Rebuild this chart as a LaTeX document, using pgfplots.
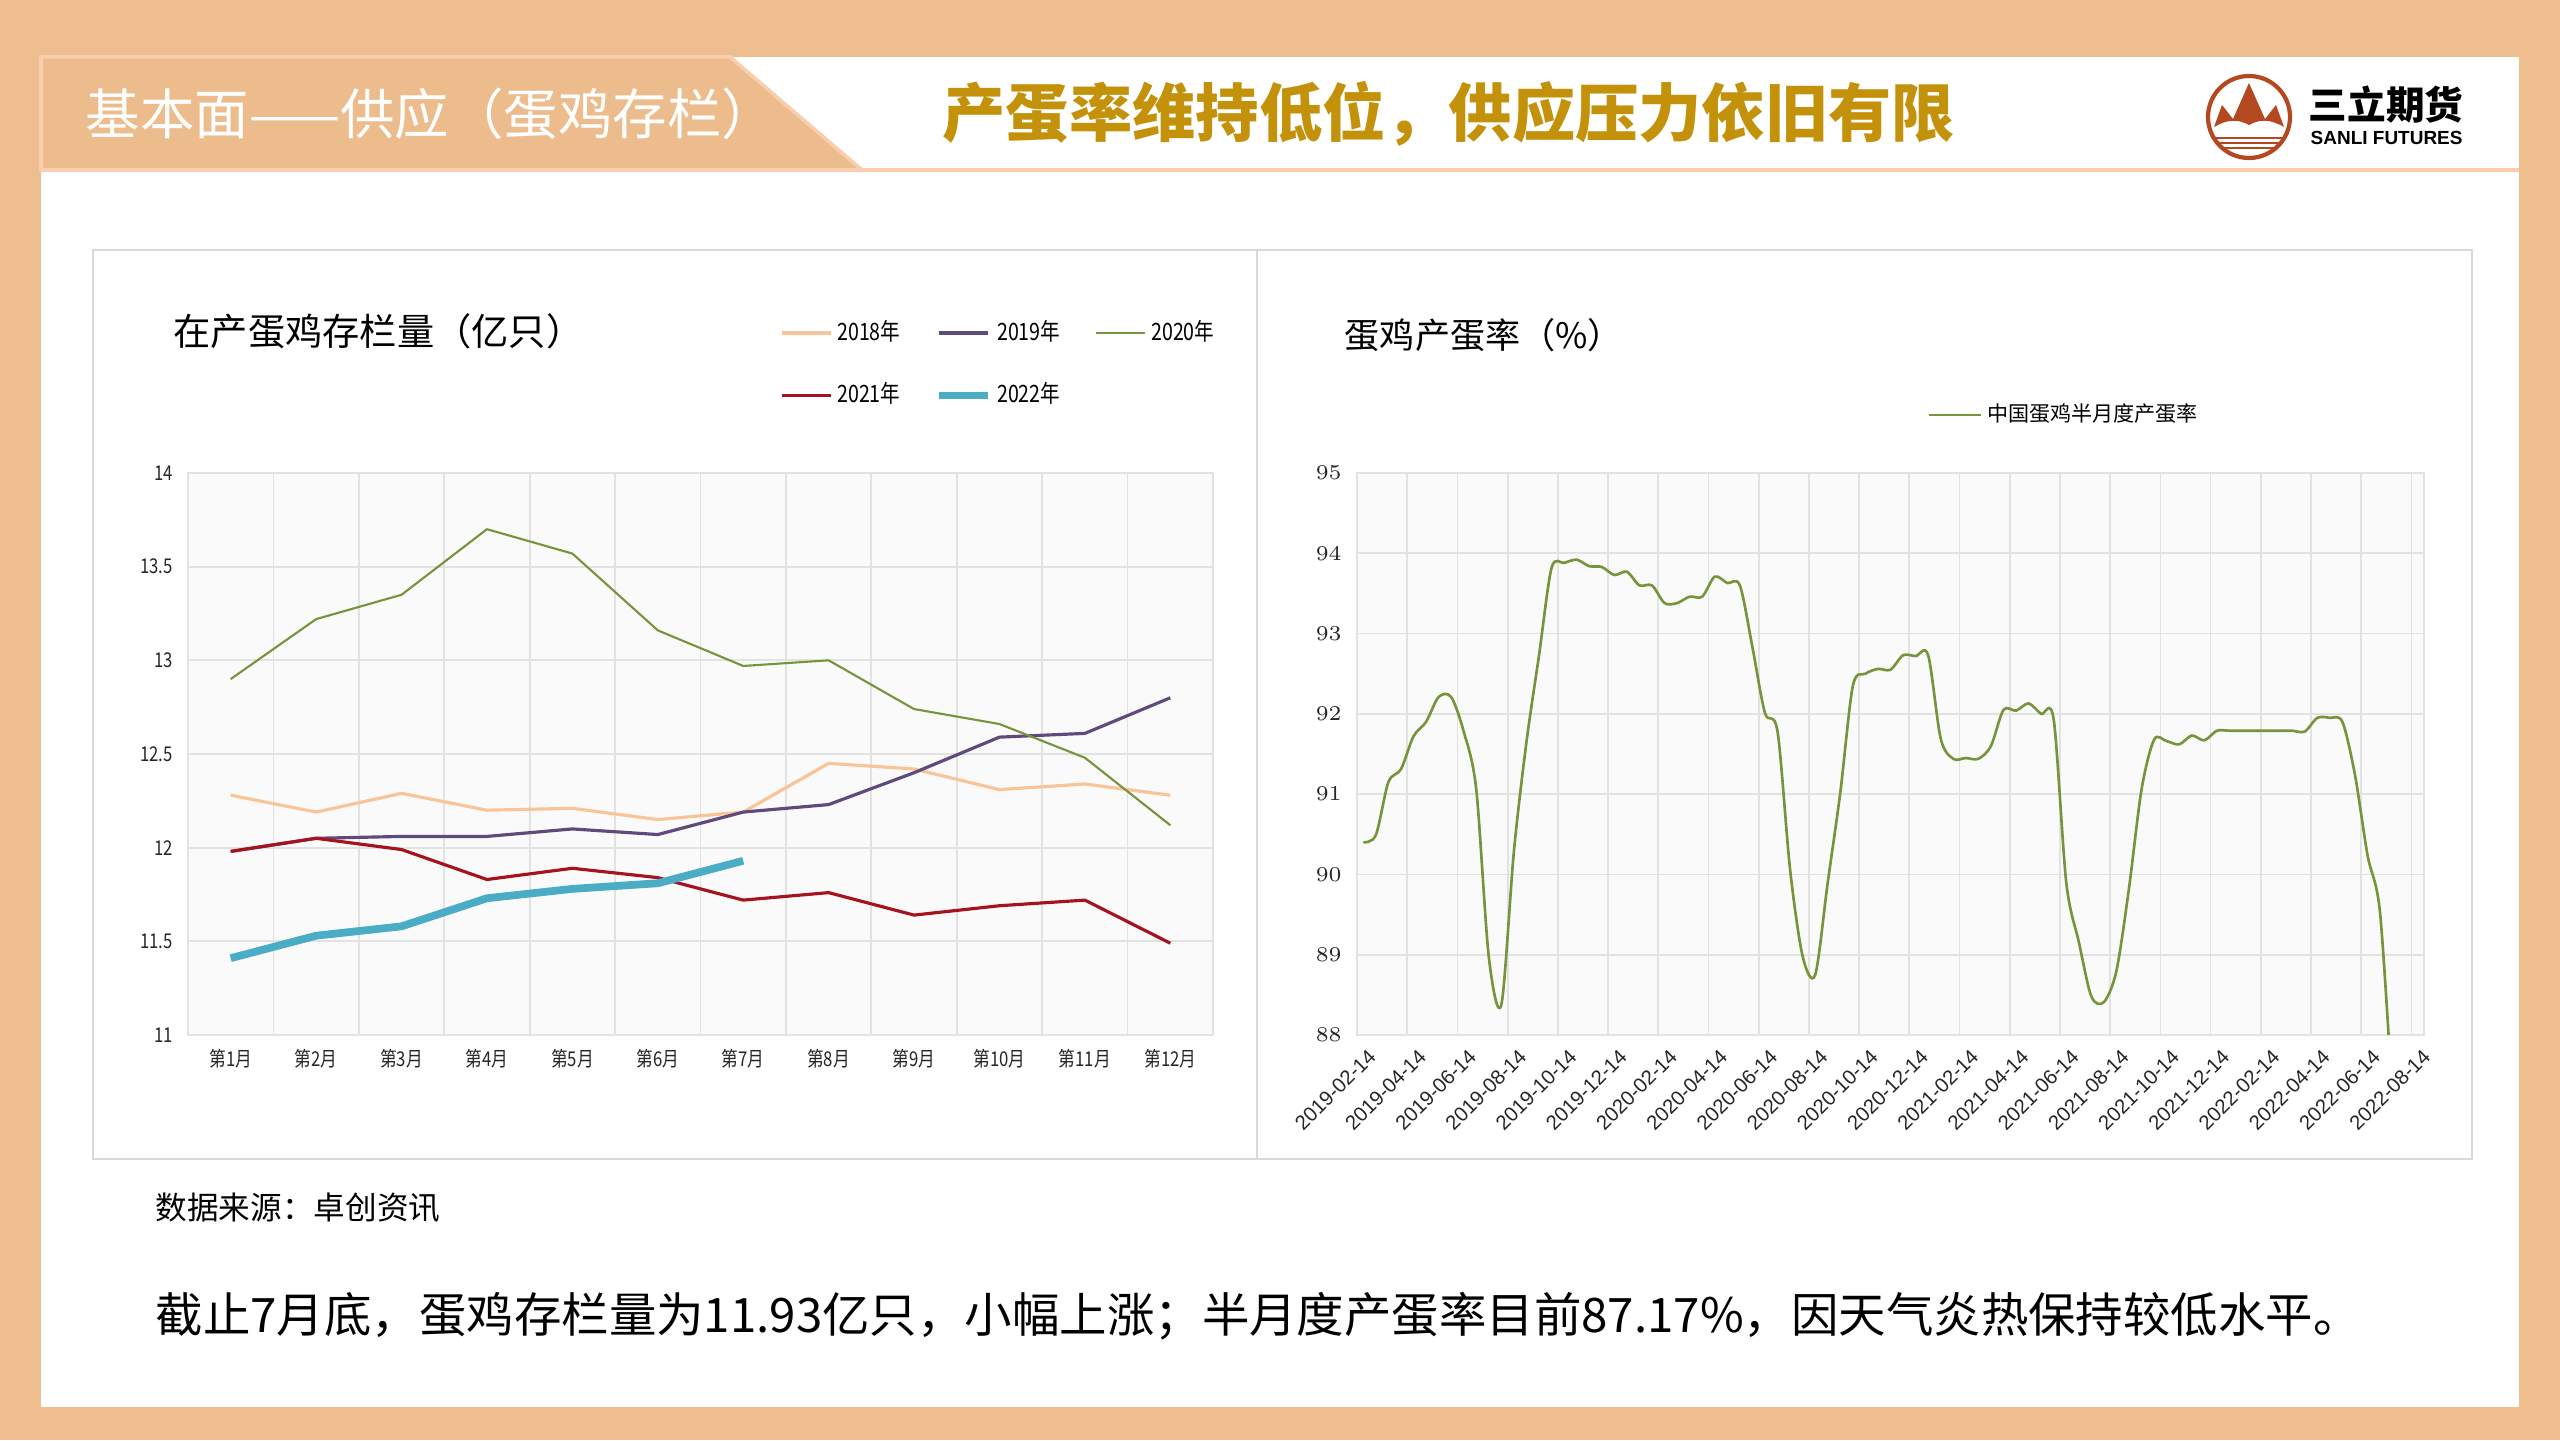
\documentclass[border=0pt]{standalone}
\usepackage{fontspec}
\setmainfont{Noto Sans CJK SC}
\newfontfamily\nar[FakeStretch=0.82]{Noto Sans CJK SC}
\newfontfamily\lib{Liberation Sans}
\newfontfamily\libnar[FakeStretch=0.82]{Liberation Sans}
\usepackage{pgfplots}
\pgfplotsset{compat=1.18}
\definecolor{bgor}{RGB}{238,190,142}
\definecolor{hdrbox}{RGB}{237,188,141}
\definecolor{hdrline}{RGB}{248,206,174}
\definecolor{titlegold}{RGB}{196,146,10}
\definecolor{panelc}{RGB}{217,217,217}
\definecolor{gridc}{RGB}{226,226,226}
\definecolor{plotbg}{RGB}{250,250,250}
\definecolor{cA}{RGB}{248,196,152}
\definecolor{cB}{RGB}{96,74,123}
\definecolor{cC}{RGB}{119,147,60}
\definecolor{cD}{RGB}{165,20,30}
\definecolor{cE}{RGB}{75,172,198}
\definecolor{rust}{RGB}{180,72,32}
\begin{document}
\begin{tikzpicture}
\useasboundingbox (0,0) rectangle (25.6,14.4);
\fill[bgor] (0,0) rectangle (25.6,14.4);
\fill[white] (0.41,0.33) rectangle (25.19,13.83);
\draw[hdrline, line width=1.4pt] (0.41,12.70) -- (25.19,12.70);
\filldraw[fill=hdrbox, draw=hdrline, line width=1pt] (0.41,13.83) -- (7.30,13.83) -- (8.62,12.70) -- (0.41,12.70) -- cycle;
\node[anchor=west, inner sep=0pt, text=white, font=\fontsize{15.5}{17}\selectfont] at (0.85,13.26) {基本面——供应（蛋鸡存栏）};
\node[anchor=west, inner sep=0pt, text=titlegold, font=\bfseries\fontsize{18}{20}\selectfont] at (9.42,13.26) {产蛋率维持低位，供应压力依旧有限};
% logo
\begin{scope}
\clip (22.49,13.23) circle (0.40);
\fill[rust] (22.14,13.13) -- (22.22,13.35) -- (22.33,13.21) -- (22.49,13.57) -- (22.65,13.21) -- (22.76,13.35) -- (22.84,13.13) .. controls (22.70,13.21) and (22.60,13.21) .. (22.49,13.15) .. controls (22.38,13.21) and (22.28,13.21) .. (22.14,13.13) -- cycle;
\draw[rust, line width=0.8pt] (22.0,13.02) -- (23.0,13.02);
\draw[rust, line width=0.8pt] (22.0,12.97) -- (23.0,12.97);
\draw[rust, line width=0.8pt] (22.0,12.92) -- (23.0,12.92);
\end{scope}
\draw[rust, line width=1.2pt] (22.49,13.23) circle (0.41);
\node[anchor=west, inner sep=0pt, font=\bfseries\fontsize{11}{12}\selectfont] at (23.08,13.35) {三立期货};
\node[anchor=west, inner sep=0pt, font=\lib\bfseries\fontsize{5.4}{6}\selectfont] at (23.10,13.02) {SANLI FUTURES};
% panels
\draw[panelc, line width=0.6pt] (0.93,2.81) rectangle (24.72,11.90);
\draw[panelc, line width=0.6pt] (12.57,2.81) -- (12.57,11.90);
\node[anchor=west, inner sep=0pt, font=\fontsize{10.6}{12}\selectfont] at (1.73,11.09) {在产蛋鸡存栏量（亿只）};
\node[anchor=west, inner sep=0pt, font=\fontsize{10}{12}\selectfont] at (13.44,11.05) {蛋鸡产蛋率（\%）};
\node[anchor=west, inner sep=0pt, font=\fontsize{9}{10}\selectfont] at (1.55,2.32) {数据来源：卓创资讯};
\node[anchor=west, inner sep=0pt, font=\fontsize{13.5}{15}\selectfont] at (1.55,1.24) {截止7月底，蛋鸡存栏量为11.93亿只，小幅上涨；半月度产蛋率目前87.17\%，因天气炎热保持较低水平。};

\begin{axis}[
  at={(1.88cm,4.05cm)}, anchor=south west, scale only axis,
  width=10.25cm, height=5.62cm,
  xmin=-0.5, xmax=11.5, ymin=11, ymax=14,
  axis background/.style={fill=plotbg},
  axis line style={draw=gridc},
  tick style={draw=none},
  major tick length=0pt, minor tick length=0pt,
  xtick={0,...,11},
  xticklabels={第1月,第2月,第3月,第4月,第5月,第6月,第7月,第8月,第9月,第10月,第11月,第12月},
  minor xtick={-0.5,0.5,...,11.5},
  xminorgrids=true, ymajorgrids=true,
  ytick={11,11.5,12,12.5,13,13.5,14},
  yticklabels={11,11.5,12,12.5,13,13.5,14},
  grid style={draw=gridc, line width=0.5pt},
  minor grid style={draw=gridc, line width=0.5pt},
  tick label style={font=\nar\fontsize{5.8}{6}\selectfont, text=black!85},
  xticklabel style={yshift=-0.02cm},
  yticklabel style={xshift=-0.03cm},
  legend columns=3,
  legend style={at={(0.577,1.282)}, anchor=north west, draw=none, fill=none,
    font=\nar\fontsize{6.8}{7}\selectfont, inner sep=0pt, row sep=0.27cm,
    nodes={inner sep=0.05cm},
    /tikz/every even column/.append style={column sep=0.30cm}},
  legend cell align=left,
  legend image code/.code={\draw[#1] (0cm,0cm) -- (0.49cm,0cm);},
  line join=round,
]
\addplot[cA, line width=0.9pt] coordinates {(0,12.28) (1,12.19) (2,12.29) (3,12.20) (4,12.21) (5,12.15) (6,12.19) (7,12.45) (8,12.42) (9,12.31) (10,12.34) (11,12.28)};
\addlegendentry{2018年}
\addplot[cB, line width=0.9pt] coordinates {(0,11.98) (1,12.05) (2,12.06) (3,12.06) (4,12.10) (5,12.07) (6,12.19) (7,12.23) (8,12.40) (9,12.59) (10,12.61) (11,12.80)};
\addlegendentry{2019年}
\addplot[cC, line width=0.6pt] coordinates {(0,12.90) (1,13.22) (2,13.35) (3,13.70) (4,13.57) (5,13.16) (6,12.97) (7,13.00) (8,12.74) (9,12.66) (10,12.48) (11,12.12)};
\addlegendentry{2020年}
\addplot[cD, line width=0.9pt] coordinates {(0,11.98) (1,12.05) (2,11.99) (3,11.83) (4,11.89) (5,11.84) (6,11.72) (7,11.76) (8,11.64) (9,11.69) (10,11.72) (11,11.49)};
\addlegendentry{2021年}
\addplot[cE, line width=2.2pt] coordinates {(0,11.41) (1,11.53) (2,11.58) (3,11.73) (4,11.78) (5,11.81) (6,11.93)};
\addlegendentry{2022年}
\end{axis}

\begin{axis}[
  at={(13.57cm,4.05cm)}, anchor=south west, scale only axis,
  width=10.67cm, height=5.62cm,
  xmin=0, xmax=42.5, ymin=88, ymax=95,
  axis background/.style={fill=plotbg},
  axis line style={draw=gridc},
  tick style={draw=none},
  major tick length=0pt,
  xtick={0,2,...,42},
  xticklabels={2019-02-14,2019-04-14,2019-06-14,2019-08-14,2019-10-14,2019-12-14,2020-02-14,2020-04-14,2020-06-14,2020-08-14,2020-10-14,2020-12-14,2021-02-14,2021-04-14,2021-06-14,2021-08-14,2021-10-14,2021-12-14,2022-02-14,2022-04-14,2022-06-14,2022-08-14},
  ytick={88,89,...,95},
  xmajorgrids=true, ymajorgrids=true,
  grid style={draw=gridc, line width=0.5pt},
  yticklabel style={font=\nar\fontsize{5.8}{6}\selectfont, text=black!85, xshift=-0.03cm},
  xticklabel style={font=\lib\fontsize{5.8}{6}\selectfont, text=black!85, xshift=0.10cm, yshift=-0.12cm, rotate=45, anchor=north east, inner sep=0pt},
  legend style={at={(0.534,1.103)}, anchor=west, draw=none, fill=none,
    font=\fontsize{6}{7}\selectfont, inner sep=0pt, nodes={inner sep=0.05cm}},
  legend image code/.code={\draw[#1] (0cm,0cm) -- (0.52cm,0cm);},
]
\addplot[cC, line width=0.75pt, smooth, tension=0.5] coordinates {
(0.25,90.40) (0.75,90.49) (1.25,91.15) (1.75,91.31) (2.25,91.72) (2.75,91.90) (3.25,92.21) (3.75,92.21)
(4.25,91.78) (4.75,91.06) (5.25,88.97) (5.75,88.38) (6.25,90.29) (6.75,91.65) (7.25,92.73) (7.75,93.82)
(8.25,93.88) (8.75,93.92) (9.25,93.84) (9.75,93.83) (10.25,93.73) (10.75,93.77) (11.25,93.60) (11.75,93.60)
(12.25,93.38) (12.75,93.38) (13.25,93.46) (13.75,93.46) (14.25,93.71) (14.75,93.63) (15.25,93.60) (15.75,92.83)
(16.25,92.01) (16.75,91.78) (17.25,90.06) (17.75,88.98) (18.25,88.75) (18.75,89.90) (19.25,91.02) (19.75,92.35)
(20.25,92.50) (20.75,92.56) (21.25,92.55) (21.75,92.73) (22.25,92.72) (22.75,92.73) (23.25,91.69) (23.75,91.44)
(24.25,91.45) (24.75,91.44) (25.25,91.60) (25.75,92.05) (26.25,92.04) (26.75,92.13) (27.25,92.00) (27.75,91.93)
(28.25,89.90) (28.75,89.16) (29.25,88.48) (29.75,88.41) (30.25,88.80) (30.75,89.83) (31.25,91.06) (31.75,91.68)
(32.25,91.66) (32.75,91.62) (33.25,91.73) (33.75,91.67) (34.25,91.79) (34.75,91.79) (35.25,91.79) (35.75,91.79)
(36.25,91.79) (36.75,91.79) (37.25,91.79) (37.75,91.78) (38.25,91.95) (38.75,91.95) (39.25,91.90) (39.75,91.24)
(40.25,90.24) (40.75,89.52) (41.25,87.17)};
\addlegendentry{中国蛋鸡半月度产蛋率}
\end{axis}
\end{tikzpicture}
\end{document}
